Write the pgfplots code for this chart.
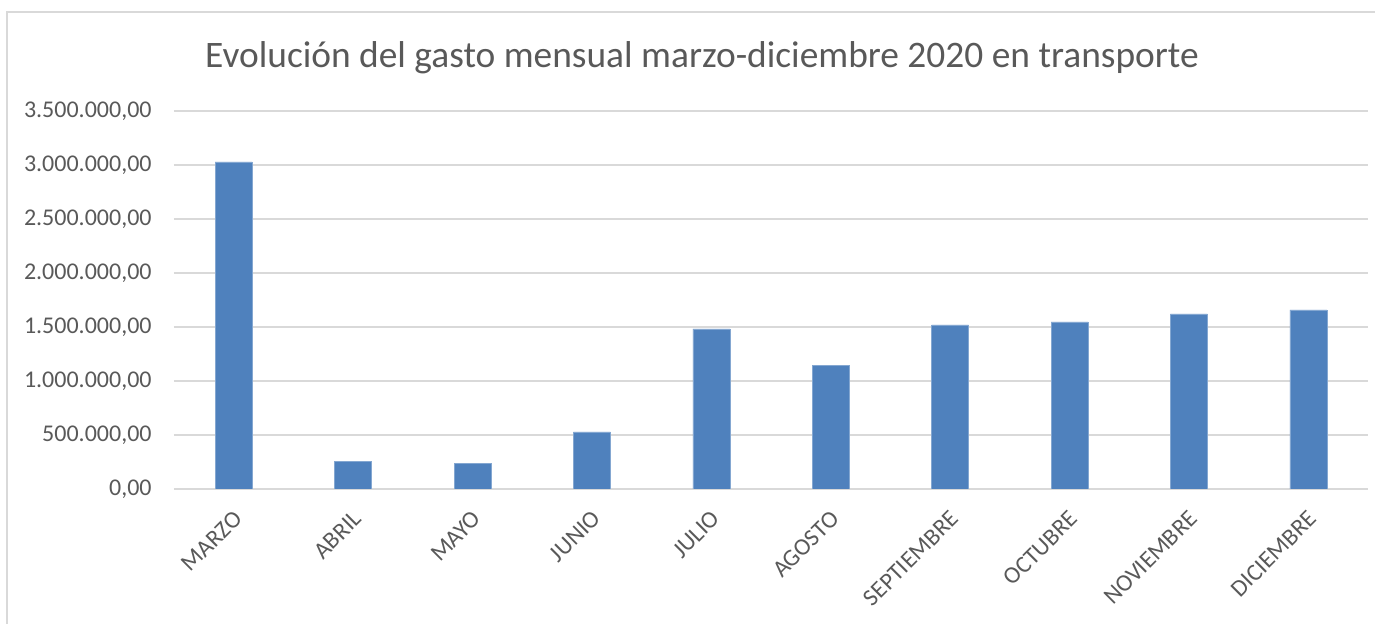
\documentclass[border=0pt]{standalone}
\usepackage{pgfplots}
\pgfplotsset{compat=1.18}
\usepackage{fontspec}
\setmainfont{Carlito}

\definecolor{barblue}{HTML}{4F81BD}
\definecolor{txtgray}{HTML}{595959}
\definecolor{gridgray}{HTML}{D9D9D9}

\begin{document}
\begin{tikzpicture}
\begin{axis}[
    scale only axis,
    width=597pt,
    height=189pt,
    xmin=-0.5, xmax=9.5,
    ymin=0, ymax=3500000,
    ytick={0,500000,...,3500000},
    xtick=data,
    xticklabels={MARZO,ABRIL,MAYO,JUNIO,JULIO,AGOSTO,SEPTIEMBRE,OCTUBRE,NOVIEMBRE,DICIEMBRE},
    major tick length=0pt,
    axis line style={draw=none},
    ymajorgrids,
    grid style={gridgray, line width=0.75pt},
    scaled y ticks=false,
    /pgf/number format/.cd, fixed, fixed zerofill, precision=2, 1000 sep={.}, use comma, assume math mode=true,
    /pgfplots/.cd,
    yticklabel style={font=\fontsize{12}{14}\selectfont, text=txtgray, anchor=east, inner sep=0pt, xshift=-11pt},
    xticklabel style={font=\fontsize{12}{14}\selectfont, text=txtgray, rotate=45, anchor=east, inner sep=0pt, yshift=-10.7pt, xshift=-7.5pt},
    ybar, bar width=18.5pt,
]
\addplot[fill=barblue, draw=barblue!70!white, line width=0.3pt] coordinates {
(0,3028000) (1,253000) (2,236000) (3,528000) (4,1483000)
(5,1144000) (6,1520000) (7,1548000) (8,1622000) (9,1659000)
};
\end{axis}
\node[anchor=base, text=txtgray, font=\fontsize{18.7}{22}\selectfont] at (264pt,210.5pt)
  {Evolución del gasto mensual marzo-diciembre 2020 en transporte};
\draw[gridgray, line width=0.75pt] (-83.5pt,-67.5pt) -- (-83.5pt,238.5pt) -- (600.5pt,238.5pt);
\pgfresetboundingbox
\path[use as bounding box] (-87pt,-67.5pt) rectangle (600.5pt,244.5pt);
\end{tikzpicture}
\end{document}
